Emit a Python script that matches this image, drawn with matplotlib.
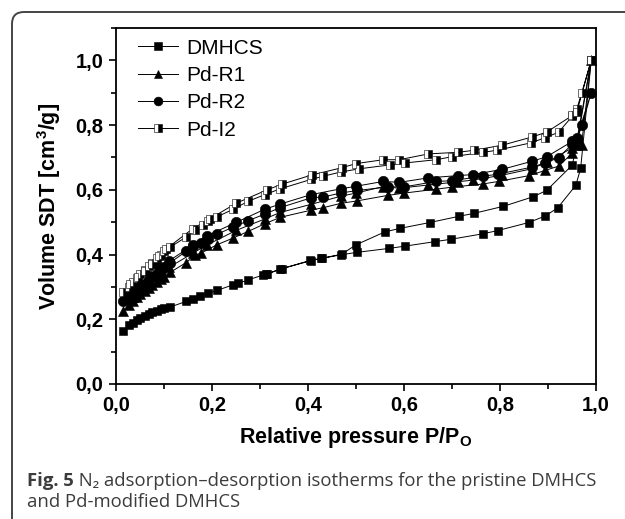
import matplotlib
matplotlib.use("Agg")
import matplotlib.pyplot as plt
from matplotlib.patches import FancyBboxPatch
from matplotlib.ticker import MultipleLocator, FixedLocator

plt.rcParams["font.family"] = ["Liberation Sans", "DejaVu Sans"]
plt.rcParams["mathtext.fontset"] = "custom"
plt.rcParams["mathtext.rm"] = "Liberation Sans:bold"
plt.rcParams["mathtext.it"] = "Liberation Sans:bold"
plt.rcParams["mathtext.bf"] = "Liberation Sans:bold"

# ---- data ----
low_x = [0.015, 0.027, 0.036, 0.044, 0.051, 0.06, 0.068, 0.076, 0.085, 0.093, 0.101, 0.113]

dm_ads_x = low_x + [0.146, 0.161, 0.176, 0.192, 0.21, 0.243, 0.255, 0.276, 0.307, 0.315, 0.342,
                    0.406, 0.428, 0.468, 0.503, 0.569, 0.602, 0.665, 0.697, 0.764, 0.795, 0.86,
                    0.894, 0.92, 0.958, 0.968, 0.99]
dm_ads_y = [0.165, 0.182, 0.19, 0.198, 0.205, 0.211, 0.217, 0.222, 0.227, 0.231, 0.235, 0.238,
            0.255, 0.263, 0.272, 0.28, 0.289, 0.306, 0.311, 0.322, 0.337, 0.34, 0.355,
            0.381, 0.388, 0.399, 0.407, 0.419, 0.426, 0.44, 0.447, 0.464, 0.474, 0.499,
            0.519, 0.544, 0.614, 0.666, 1.0]
dm_des_x = [0.951, 0.897, 0.868, 0.807, 0.745, 0.714, 0.654, 0.592, 0.56, 0.5, 0.47, 0.43, 0.405,
            0.345, 0.312]
dm_des_y = [0.677, 0.598, 0.578, 0.549, 0.527, 0.518, 0.499, 0.481, 0.47, 0.43, 0.401, 0.389,
            0.382, 0.356, 0.339]

r1_ads_x = low_x + [0.146, 0.165, 0.178, 0.21, 0.244, 0.276, 0.31, 0.342, 0.406, 0.432, 0.468,
                    0.503, 0.567, 0.601, 0.667, 0.699, 0.764, 0.797, 0.861, 0.894, 0.922, 0.951,
                    0.97, 0.99]
r1_ads_y = [0.225, 0.245, 0.258, 0.268, 0.278, 0.288, 0.297, 0.305, 0.315, 0.323, 0.332, 0.345,
            0.375, 0.398, 0.405, 0.43, 0.451, 0.472, 0.495, 0.515, 0.537, 0.545, 0.558,
            0.566, 0.583, 0.59, 0.602, 0.608, 0.618, 0.626, 0.644, 0.66, 0.673, 0.714,
            0.74, 1.0]
r1_des_x = [0.96, 0.951, 0.897, 0.866, 0.804, 0.743, 0.713, 0.651, 0.59, 0.557, 0.5, 0.468, 0.406,
            0.342, 0.31, 0.251, 0.19, 0.161, 0.11, 0.09, 0.07, 0.05, 0.035]
r1_des_y = [0.74, 0.73, 0.685, 0.665, 0.645, 0.63, 0.625, 0.615, 0.605, 0.61, 0.59, 0.58, 0.555,
            0.53, 0.51, 0.475, 0.43, 0.405, 0.36, 0.34, 0.315, 0.29, 0.27]

r2_ads_x = low_x + [0.146, 0.161, 0.178, 0.192, 0.21, 0.244, 0.276, 0.31, 0.342, 0.406, 0.432,
                    0.468, 0.503, 0.567, 0.6, 0.667, 0.699, 0.764, 0.795, 0.866, 0.894, 0.922,
                    0.951, 0.96, 0.971, 0.99]
r2_ads_y = [0.255, 0.27, 0.28, 0.29, 0.30, 0.31, 0.32, 0.33, 0.34, 0.35, 0.36, 0.375,
            0.41, 0.425, 0.437, 0.447, 0.462, 0.485, 0.505, 0.525, 0.545, 0.575, 0.578,
            0.59, 0.598, 0.609, 0.609, 0.626, 0.628, 0.642, 0.648, 0.67, 0.683, 0.699,
            0.742, 0.755, 0.80, 0.90]
r2_des_x = [0.96, 0.951, 0.897, 0.866, 0.804, 0.743, 0.713, 0.651, 0.59, 0.557, 0.5, 0.468, 0.406,
            0.342, 0.31, 0.251, 0.19, 0.161, 0.11, 0.09, 0.07, 0.05, 0.035]
r2_des_y = [0.76, 0.75, 0.702, 0.688, 0.663, 0.647, 0.644, 0.637, 0.623, 0.626, 0.611, 0.603,
            0.585, 0.556, 0.54, 0.50, 0.458, 0.43, 0.38, 0.36, 0.335, 0.31, 0.29]

i2_ads_x = low_x + [0.146, 0.165, 0.182, 0.192, 0.21, 0.244, 0.276, 0.31, 0.342, 0.406, 0.432,
                    0.468, 0.507, 0.571, 0.602, 0.667, 0.699, 0.765, 0.793, 0.864, 0.894, 0.922,
                    0.951, 0.96, 0.97, 0.99]
i2_ads_y = [0.283, 0.30, 0.315, 0.327, 0.34, 0.352, 0.365, 0.375, 0.388, 0.40, 0.41, 0.423,
            0.454, 0.477, 0.49, 0.505, 0.516, 0.54, 0.565, 0.585, 0.603, 0.632, 0.642,
            0.655, 0.665, 0.677, 0.683, 0.693, 0.702, 0.716, 0.722, 0.745, 0.761, 0.778,
            0.828, 0.85, 0.898, 1.0]
i2_des_x = [0.96, 0.951, 0.897, 0.866, 0.805, 0.745, 0.713, 0.651, 0.59, 0.557, 0.5, 0.47, 0.408,
            0.345, 0.315, 0.251, 0.195, 0.16, 0.105, 0.09, 0.075, 0.06, 0.045, 0.03]
i2_des_y = [0.84, 0.83, 0.778, 0.763, 0.738, 0.722, 0.716, 0.711, 0.693, 0.693, 0.681, 0.668,
            0.646, 0.617, 0.60, 0.559, 0.51, 0.48, 0.418, 0.395, 0.37, 0.35, 0.33, 0.31]

x_ticks = [0.0, 0.2, 0.4, 0.6, 0.8, 1.0]
x_ticklabels = ["0,0", "0,2", "0,4", "0,6", "0,8", "1,0"]
y_ticks = [0.0, 0.2, 0.4, 0.6, 0.8, 1.0]
y_ticklabels = ["0,0", "0,2", "0,4", "0,6", "0,8", "1,0"]

# ---- figure ----
fig = plt.figure(figsize=(6.25, 5.19), dpi=100)

# rounded frame around the whole panel (in pixel units)
bg = fig.add_axes([0, 0, 1, 1])
bg.set_xlim(0, 625)
bg.set_ylim(519, 0)
bg.axis("off")
bg.add_patch(FancyBboxPatch((12, 12), 640, 540, boxstyle="round,pad=0,rounding_size=12",
                            fc="none", ec="#444444", lw=1.4))

ax = fig.add_axes([116 / 625, 1 - 384 / 519, 480 / 625, 356 / 519])

line_kw = dict(color="black", lw=0.7, mec="black", mew=0.4)
ax.plot(dm_ads_x + dm_des_x, dm_ads_y + dm_des_y, marker="s", ms=6.3, label="DMHCS", **line_kw)
ax.plot(r1_ads_x + r1_des_x, r1_ads_y + r1_des_y, marker="^", ms=7.5, label="Pd-R1", **line_kw)
ax.plot(r2_ads_x + r2_des_x, r2_ads_y + r2_des_y, marker="o", ms=7.5, label="Pd-R2", **line_kw)
ax.plot(i2_ads_x + i2_des_x, i2_ads_y + i2_des_y, marker="s", ms=6.3, fillstyle="right",
        mfc="black", markerfacecoloralt="white", label="Pd-I2", **line_kw)

ax.set_xlim(0, 1.0)
ax.set_ylim(0, 1.1)
ax.xaxis.set_major_locator(FixedLocator(x_ticks))
ax.set_xticklabels(x_ticklabels)
ax.yaxis.set_major_locator(FixedLocator(y_ticks))
ax.set_yticklabels(y_ticklabels)
ax.xaxis.set_minor_locator(MultipleLocator(0.1))
ax.yaxis.set_minor_locator(MultipleLocator(0.1))
ax.tick_params(which="both", direction="out", width=1.2, top=False, right=False,
               labelsize=14.5)
ax.tick_params(which="major", length=5, pad=4)
ax.tick_params(which="minor", length=3.5)
for lab in ax.get_xticklabels() + ax.get_yticklabels():
    lab.set_fontweight("bold")
for sp in ax.spines.values():
    sp.set_linewidth(1.3)

ax.set_xlabel(r"Relative pressure P/P$_{\mathrm{O}}$", fontsize=15.5, fontweight="bold",
              labelpad=7)
ax.set_ylabel(r"Volume SDT [cm$^{3}$/g]", fontsize=15.5, fontweight="bold", labelpad=9)

ax.legend(loc="upper left", bbox_to_anchor=(0.046, 0.97), frameon=False, fontsize=15,
          handlelength=1.9, handletextpad=0.4, labelspacing=0.4, borderpad=0,
          borderaxespad=0, markerscale=0.85)

# caption
cap_font = ["Open Sans", "DejaVu Sans"]
cap_col = "#3c3c3c"
t1 = fig.text(27 / 625, 1 - 481 / 519, "Fig. 5", fontsize=13.3, fontweight="bold",
              family=cap_font, color=cap_col, va="center")
bg.annotate(" N\u2082 adsorption\u2013desorption isotherms for the pristine DMHCS",
            xy=(1, 0), xycoords=t1, va="bottom", ha="left", fontsize=13.3,
            family=cap_font, color=cap_col)
fig.text(27 / 625, 1 - 502 / 519, "and Pd-modified DMHCS", fontsize=13.3,
         family=cap_font, color=cap_col, va="center")

fig.savefig("out.png", dpi=100)
